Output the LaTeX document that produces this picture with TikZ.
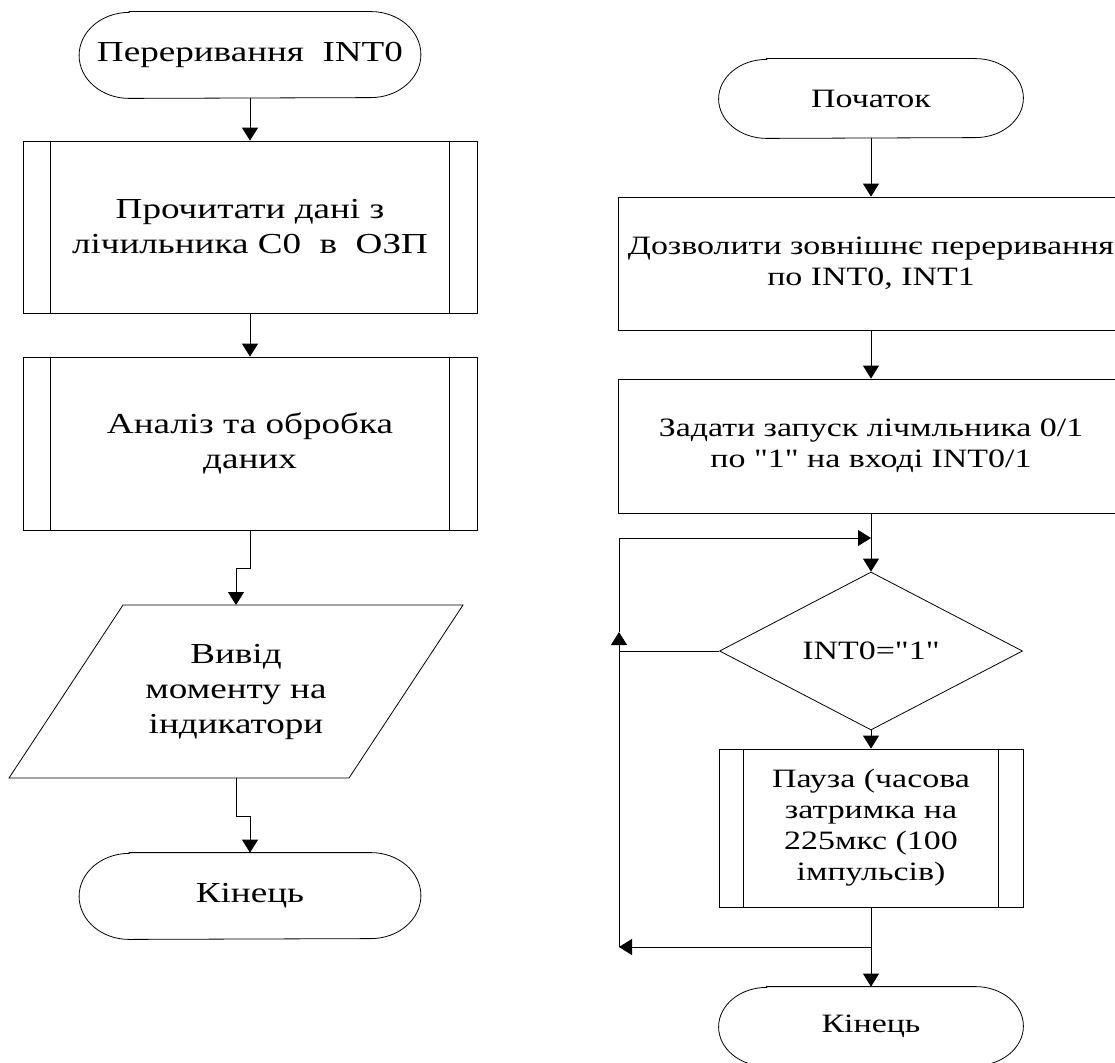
\documentclass[tikz,border=0pt]{standalone}
\usepackage{fontspec}
\setmainfont{Liberation Serif}[FakeStretch=1.28,Ligatures=TeXOff]
\usetikzlibrary{arrows.meta,shapes.geometric}
\newcommand\termline[3]{\draw ([xshift=#2]#1.north west) -- ([xshift=-#2]#1.north east) arc[start angle=90,end angle=-90,x radius=#2,y radius=#3] -- ([xshift=#2]#1.south west) arc[start angle=270,end angle=90,x radius=#2,y radius=#3] -- cycle;}
\newcommand\subbars[2]{\draw ([xshift=#2]#1.north west) -- ([xshift=#2]#1.south west); \draw ([xshift=-#2]#1.north east) -- ([xshift=-#2]#1.south east);}
\begin{document}
\begin{tikzpicture}[x=1pt,y=-1pt,line width=0.8pt,
  arr/.style={-{Triangle[width=16pt,length=13pt]}},
  lfont/.style={font=\fontsize{29}{35}\selectfont},
  rfont/.style={font=\fontsize{26.5}{31}\selectfont},
  lterm/.style={lfont,minimum width=341pt,minimum height=86pt,inner sep=0pt},
  lbox/.style={lfont,draw,minimum width=454pt,inner sep=0pt,align=center},
  rterm/.style={rfont,minimum width=304pt,minimum height=79pt,inner sep=0pt},
  rbox/.style={rfont,draw,minimum width=506pt,inner sep=0pt,align=center},
  dec/.style={rfont,draw,diamond,aspect=2,minimum width=303pt,minimum height=158pt,inner sep=0pt},
  pbox/.style={rfont,draw,minimum width=304pt,minimum height=158pt,inner sep=0pt,align=center}
]
\useasboundingbox (0,0) rectangle (1115,1062);
\clip (0,0) rectangle (1115,1062);
% left column
\node[lterm] (L1) at (250,55) {Переривання~~INT0};
\termline{L1}{50pt}{43pt}
\node[lbox,minimum height=172pt] (L2) at (250,227) {Прочитати дані з\\лічильника С0~~в~~ОЗП};
\subbars{L2}{28pt}
\node[lbox,minimum height=173pt] (L3) at (250,443.5) {Аналіз та обробка\\даних};
\subbars{L3}{28pt}
\coordinate (PTL) at (123,605);
\coordinate (PTR) at (463,605);
\coordinate (PBR) at (349,778);
\coordinate (PBL) at (9,778);
\coordinate (PT) at (236,605);
\coordinate (PB) at (236,778);
\draw (PTL) -- (PTR) -- (PBR) -- (PBL) -- cycle;
\node[lfont,align=center,inner sep=0pt] (L4) at (236,691.5) {Вивід\\моменту на\\індикатори};
\node[lterm] (L5) at (250,896) {Кінець};
\termline{L5}{50pt}{43pt}
\draw[arr] (L1.south) -- (L2.north);
\draw[arr] (L2.south) -- (L3.north);
\draw[arr] (L3.south) -- ++(0,38) -| (PT);
\draw[arr] (PB) -- ++(0,38) -| (L5.north);
% right column
\node[rterm] (R1) at (871,98.5) {Початок};
\termline{R1}{48pt}{39.5pt}
\node[rbox,minimum height=133pt] (R2) at (871,263.5) {Дозволити зовнішнє переривання\\по INT0, INT1};
\node[rbox,minimum height=134pt] (R3) at (871,446) {Задати запуск лічмльника 0/1\\по "1" на вході INT0/1};
\node[dec] (R4) at (871,651) {INT0="1"};
\node[pbox] (R5) at (871,828) {Пауза (часова\\затримка на\\225мкс (100\\імпульсів)};
\subbars{R5}{25pt}
\node[rterm] (R6) at (871,1026.5) {Кінець};
\termline{R6}{48pt}{39.5pt}
\coordinate (LA) at (619,651);
\coordinate (LU) at (619,632);
\coordinate (LT) at (619,538);
\coordinate (LB) at (619,947);
\coordinate (J1) at (871,538);
\coordinate (J2) at (871,947);
\draw[arr] (R1.south) -- (R2.north);
\draw[arr] (R2.south) -- (R3.north);
\draw[arr] (R3.south) -- (R4.north);
\draw[arr] (R4.south) -- (R5.north);
\draw[arr] (R5.south) -- (R6.north);
\draw (R4.west) -- (LA);
\draw[arr] (LB) -- (LU);
\draw (LU) -- (LT);
\draw[arr] (LT) -- (J1);
\draw[arr] (J2) -- (LB);
\end{tikzpicture}
\end{document}
